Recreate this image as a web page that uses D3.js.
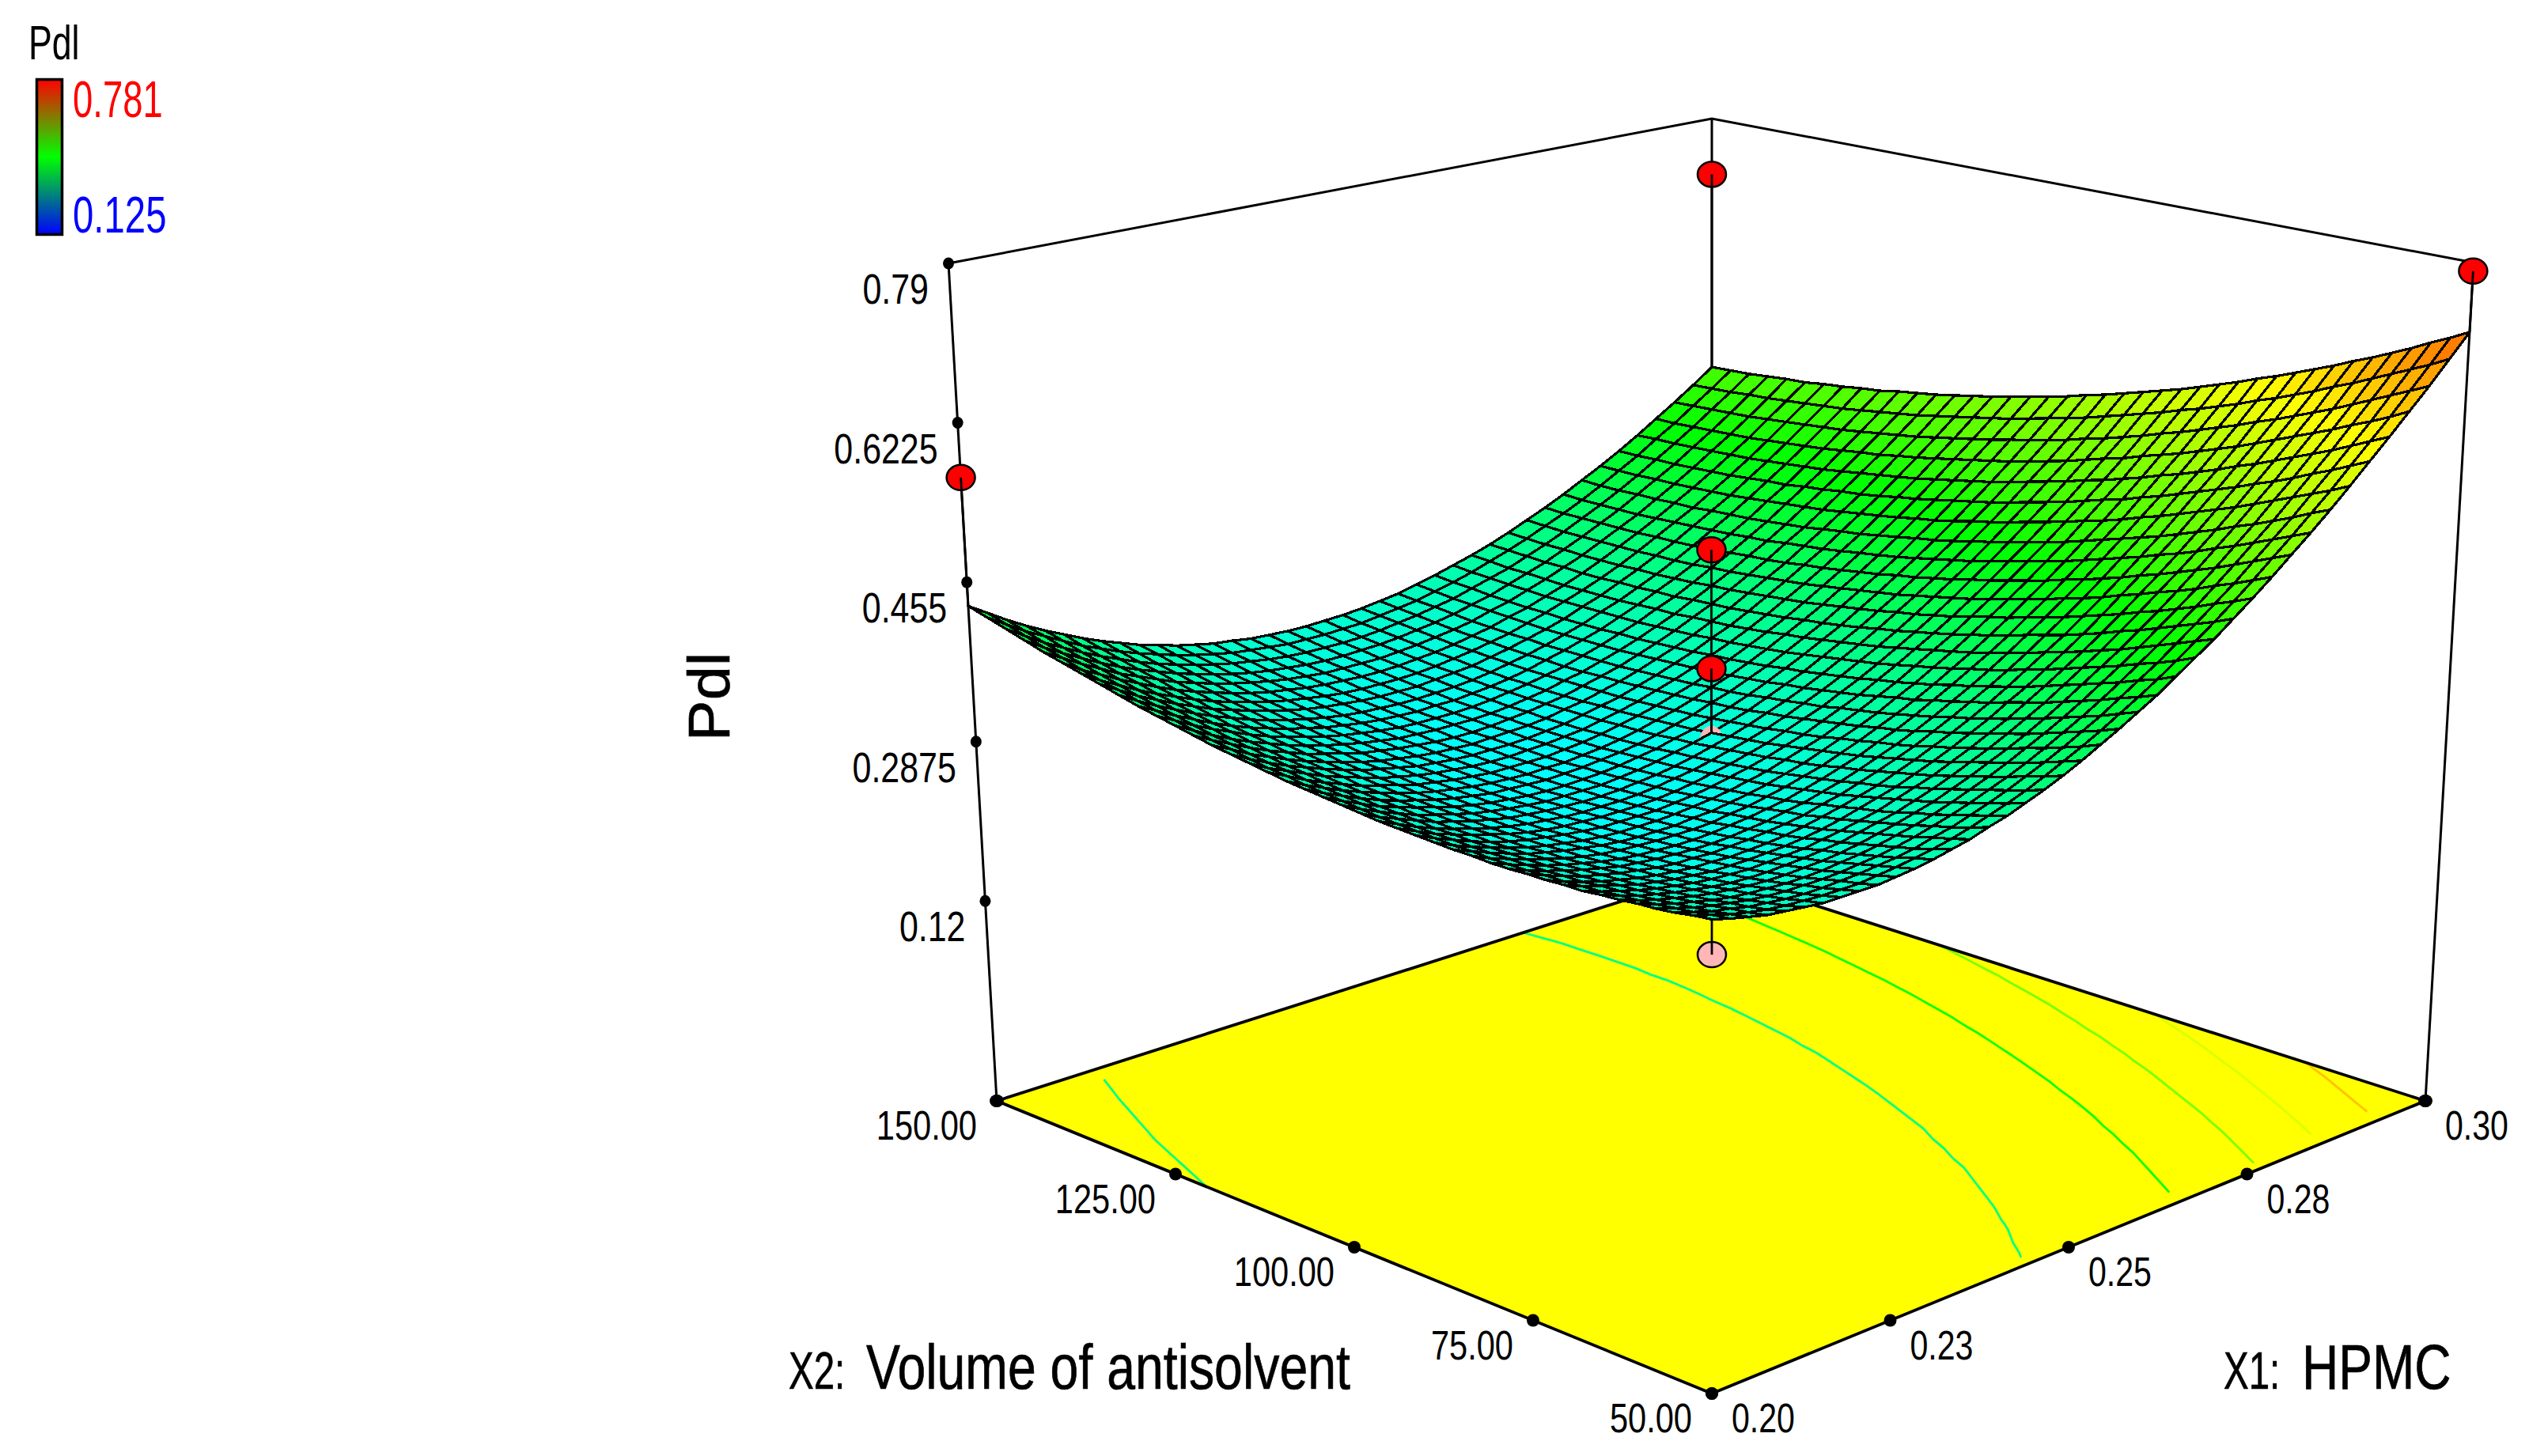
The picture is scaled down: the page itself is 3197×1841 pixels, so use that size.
<!DOCTYPE html>
<html>
<head>
<meta charset="utf-8">
<script src="https://cdn.jsdelivr.net/npm/d3@7"></script>
<style>
  html, body { margin: 0; background: #fff; }
  text { font-family: "Liberation Sans", Arial, sans-serif; }
</style>
</head>
<body>
<div id="chart"></div>
<script>
var x1Ticks = [0.20, 0.225, 0.25, 0.275, 0.30];
var x1TickLabels = ["0.20", "0.23", "0.25", "0.28", "0.30"];
var x2Ticks = [50, 75, 100, 125, 150];
var x2TickLabels = ["50.00", "75.00", "100.00", "125.00", "150.00"];
var zTicks = [0.12, 0.2875, 0.455, 0.6225, 0.79];
var zTickLabels = ["0.12", "0.2875", "0.455", "0.6225", "0.79"];
var legendValues = [0.781, 0.125];

// design points: red ones sit above the surface, pink ones below
var redX1 = [0.30, 0.30, 0.20, 0.25, 0.25];
var redX2 = [50, 150, 150, 100, 100];
var redZ = [0.781, 0.725, 0.565, 0.502, 0.378];
var pinkX1 = [0.20, 0.25];
var pinkX2 = [50, 100];
var pinkZ = [0.32, 0.305];

var contourLevels = [0.37, 0.46, 0.53, 0.592, 0.656];

// Pdl: one row per X2 step (50 -> 150), one column per X1 step (0.20 -> 0.30)
var surfaceZ = [
[.353,.348,.344,.340,.338,.336,.334,.334,.334,.334,.336,.338,.341,.345,.349,.355,.360,.367,.374,.382,.391,.401,.411,.422,.433,.446,.459,.472,.487,.502,.518,.535,.552,.570,.589,.609,.629,.650,.671,.694,.717],
[.351,.346,.341,.337,.334,.332,.331,.330,.330,.330,.332,.334,.337,.340,.344,.349,.355,.361,.368,.376,.385,.394,.404,.415,.426,.438,.451,.465,.479,.494,.510,.527,.544,.562,.580,.600,.620,.640,.662,.684,.707],
[.348,.343,.338,.335,.331,.329,.327,.326,.326,.327,.328,.330,.332,.335,.340,.344,.350,.356,.363,.371,.379,.388,.398,.408,.420,.432,.444,.458,.472,.487,.502,.519,.536,.553,.572,.591,.611,.631,.653,.675,.698],
[.346,.341,.336,.332,.329,.326,.324,.323,.323,.323,.324,.326,.328,.331,.335,.340,.345,.351,.358,.365,.373,.382,.392,.402,.413,.425,.438,.451,.465,.479,.495,.511,.528,.545,.564,.583,.602,.623,.644,.666,.688],
[.345,.339,.334,.330,.326,.323,.321,.320,.319,.319,.320,.322,.324,.327,.331,.335,.340,.346,.353,.360,.368,.377,.386,.396,.407,.419,.431,.444,.458,.472,.487,.503,.520,.537,.556,.574,.594,.614,.635,.657,.679],
[.343,.337,.332,.328,.324,.321,.319,.317,.316,.316,.317,.318,.320,.323,.327,.331,.336,.341,.348,.355,.363,.371,.380,.390,.401,.413,.425,.437,.451,.465,.480,.496,.513,.530,.548,.566,.586,.606,.626,.648,.670],
[.342,.336,.330,.326,.322,.319,.316,.314,.313,.313,.314,.315,.317,.319,.323,.327,.331,.337,.343,.350,.358,.366,.375,.385,.395,.407,.419,.431,.445,.459,.474,.489,.505,.522,.540,.559,.578,.598,.618,.640,.662],
[.340,.334,.329,.324,.320,.317,.314,.312,.311,.310,.311,.312,.313,.316,.319,.323,.327,.333,.339,.345,.353,.361,.370,.379,.390,.401,.413,.425,.438,.452,.467,.482,.498,.515,.533,.551,.570,.590,.610,.631,.653],
[.340,.333,.328,.323,.318,.315,.312,.310,.308,.308,.308,.309,.310,.312,.315,.319,.324,.329,.334,.341,.348,.356,.365,.374,.385,.395,.407,.419,.432,.446,.461,.476,.492,.508,.526,.544,.563,.582,.602,.623,.645],
[.339,.332,.326,.321,.317,.313,.310,.308,.306,.306,.305,.306,.307,.309,.312,.316,.320,.325,.330,.337,.344,.352,.360,.369,.379,.390,.402,.414,.426,.440,.454,.469,.485,.501,.519,.537,.555,.574,.595,.615,.637],
[.339,.332,.326,.320,.316,.312,.309,.306,.304,.304,.303,.304,.305,.307,.309,.312,.317,.321,.327,.333,.340,.347,.356,.365,.375,.385,.396,.408,.421,.434,.448,.463,.479,.495,.512,.530,.548,.567,.587,.608,.629],
[.338,.331,.325,.320,.315,.311,.307,.305,.303,.302,.301,.301,.302,.304,.306,.310,.313,.318,.323,.329,.336,.343,.351,.360,.370,.380,.391,.403,.416,.429,.443,.457,.473,.489,.506,.523,.541,.560,.580,.600,.622],
[.338,.331,.325,.319,.314,.310,.306,.303,.301,.300,.299,.299,.300,.302,.304,.307,.310,.315,.320,.326,.332,.340,.347,.356,.366,.376,.387,.398,.410,.424,.437,.452,.467,.483,.499,.517,.535,.553,.573,.593,.614],
[.339,.331,.325,.319,.314,.309,.305,.302,.300,.299,.298,.298,.298,.299,.302,.304,.308,.312,.317,.322,.329,.336,.344,.352,.361,.371,.382,.393,.405,.418,.432,.446,.461,.477,.493,.510,.528,.547,.566,.586,.607],
[.339,.332,.325,.319,.313,.309,.305,.302,.299,.297,.296,.296,.296,.298,.299,.302,.305,.309,.314,.319,.326,.333,.340,.348,.358,.367,.378,.389,.401,.414,.427,.441,.456,.471,.488,.505,.522,.541,.560,.580,.600],
[.340,.332,.325,.319,.313,.308,.304,.301,.298,.296,.295,.295,.295,.296,.298,.300,.303,.307,.311,.317,.323,.329,.337,.345,.354,.363,.374,.385,.396,.409,.422,.436,.451,.466,.482,.499,.516,.534,.553,.573,.593],
[.341,.333,.326,.319,.313,.308,.304,.301,.298,.296,.294,.294,.294,.294,.296,.298,.301,.305,.309,.314,.320,.326,.334,.342,.350,.360,.370,.381,.392,.404,.417,.431,.446,.461,.477,.493,.511,.529,.547,.567,.587],
[.342,.334,.326,.320,.314,.309,.304,.300,.297,.295,.294,.293,.293,.293,.294,.296,.299,.303,.307,.312,.317,.324,.331,.338,.347,.356,.366,.377,.388,.400,.413,.427,.441,.456,.472,.488,.505,.523,.541,.561,.581],
[.343,.335,.327,.320,.314,.309,.304,.300,.297,.295,.293,.292,.292,.292,.293,.295,.298,.301,.305,.310,.315,.321,.328,.336,.344,.353,.363,.373,.384,.396,.409,.422,.436,.451,.467,.483,.500,.517,.536,.555,.575],
[.345,.336,.329,.322,.315,.310,.305,.301,.297,.295,.293,.292,.291,.291,.292,.294,.296,.299,.303,.308,.313,.319,.326,.333,.341,.350,.360,.370,.381,.393,.405,.418,.432,.447,.462,.478,.495,.512,.530,.549,.569],
[.347,.338,.330,.323,.316,.311,.306,.301,.298,.295,.293,.291,.291,.291,.291,.293,.295,.298,.302,.306,.311,.317,.323,.331,.339,.347,.357,.367,.377,.389,.401,.414,.428,.442,.458,.473,.490,.507,.525,.544,.564],
[.349,.340,.332,.324,.318,.312,.307,.302,.298,.295,.293,.291,.290,.290,.291,.292,.294,.297,.300,.305,.309,.315,.321,.328,.336,.345,.354,.364,.374,.386,.398,.411,.424,.438,.453,.469,.485,.502,.520,.539,.558],
[.351,.342,.334,.326,.319,.313,.308,.303,.299,.296,.293,.292,.291,.290,.291,.292,.294,.296,.299,.303,.308,.313,.320,.326,.334,.342,.351,.361,.371,.383,.395,.407,.420,.435,.449,.465,.481,.498,.516,.534,.553],
[.353,.344,.336,.328,.321,.315,.309,.304,.300,.297,.294,.292,.291,.290,.291,.291,.293,.295,.298,.302,.307,.312,.318,.325,.332,.340,.349,.359,.369,.380,.392,.404,.417,.431,.446,.461,.477,.494,.511,.529,.548],
[.356,.347,.338,.330,.323,.316,.311,.306,.301,.298,.295,.293,.291,.291,.291,.291,.293,.295,.298,.302,.306,.311,.317,.323,.330,.338,.347,.356,.366,.377,.389,.401,.414,.428,.442,.457,.473,.490,.507,.525,.544],
[.359,.349,.341,.333,.325,.319,.313,.307,.303,.299,.296,.294,.292,.291,.291,.292,.293,.295,.297,.301,.305,.310,.316,.322,.329,.337,.345,.354,.364,.375,.386,.398,.411,.424,.439,.454,.469,.486,.503,.521,.539],
[.362,.352,.343,.335,.328,.321,.315,.309,.305,.301,.297,.295,.293,.292,.292,.292,.293,.295,.297,.301,.305,.309,.315,.321,.328,.335,.344,.352,.362,.373,.384,.396,.408,.422,.436,.450,.466,.482,.499,.517,.535],
[.365,.356,.346,.338,.330,.323,.317,.311,.306,.302,.299,.296,.294,.293,.292,.293,.294,.295,.297,.301,.304,.309,.314,.320,.327,.334,.342,.351,.360,.371,.382,.393,.406,.419,.433,.447,.463,.479,.495,.513,.531],
[.369,.359,.350,.341,.333,.326,.319,.314,.309,.304,.301,.298,.296,.294,.293,.293,.294,.296,.298,.301,.304,.309,.314,.319,.326,.333,.341,.350,.359,.369,.380,.391,.404,.416,.430,.445,.460,.475,.492,.509,.527],
[.373,.363,.353,.344,.336,.329,.322,.316,.311,.307,.303,.300,.297,.296,.295,.295,.295,.296,.298,.301,.304,.309,.313,.319,.325,.332,.340,.348,.358,.368,.378,.390,.401,.414,.428,.442,.457,.473,.489,.506,.524],
[.377,.367,.357,.348,.340,.332,.325,.319,.314,.309,.305,.302,.299,.297,.296,.296,.296,.297,.299,.302,.305,.309,.313,.319,.325,.332,.339,.348,.356,.366,.377,.388,.400,.412,.426,.440,.454,.470,.486,.503,.521],
[.381,.371,.361,.352,.343,.335,.328,.322,.316,.312,.307,.304,.301,.299,.298,.297,.298,.298,.300,.302,.305,.309,.314,.319,.325,.331,.339,.347,.356,.365,.375,.386,.398,.410,.424,.437,.452,.467,.483,.500,.517],
[.386,.375,.365,.356,.347,.339,.332,.325,.319,.314,.310,.306,.303,.301,.300,.299,.299,.300,.301,.303,.306,.310,.314,.319,.325,.331,.339,.346,.355,.364,.374,.385,.397,.409,.422,.436,.450,.465,.481,.497,.515],
[.391,.380,.369,.360,.351,.343,.335,.329,.323,.318,.313,.309,.306,.304,.302,.301,.301,.301,.303,.305,.307,.311,.315,.320,.325,.331,.339,.346,.355,.364,.374,.384,.396,.408,.420,.434,.448,.463,.479,.495,.512],
[.396,.384,.374,.364,.355,.347,.339,.332,.326,.321,.316,.312,.309,.306,.304,.303,.303,.303,.304,.306,.309,.312,.316,.320,.326,.332,.339,.346,.354,.363,.373,.384,.395,.406,.419,.432,.446,.461,.477,.493,.510],
[.401,.389,.379,.369,.360,.351,.343,.336,.330,.324,.319,.315,.312,.309,.307,.306,.305,.305,.306,.308,.310,.313,.317,.321,.327,.332,.339,.346,.354,.363,.373,.383,.394,.406,.418,.431,.445,.459,.475,.491,.507],
[.406,.395,.384,.374,.364,.356,.348,.340,.334,.328,.323,.319,.315,.312,.310,.308,.308,.308,.308,.310,.312,.315,.318,.322,.328,.333,.340,.347,.355,.363,.373,.383,.393,.405,.417,.430,.444,.458,.473,.489,.506],
[.412,.400,.389,.379,.369,.360,.352,.345,.338,.332,.327,.322,.318,.315,.313,.311,.310,.310,.311,.312,.314,.317,.320,.324,.329,.334,.341,.348,.355,.364,.373,.383,.393,.405,.417,.429,.443,.457,.472,.488,.504],
[.418,.406,.394,.384,.374,.365,.357,.349,.342,.336,.331,.326,.322,.319,.316,.314,.313,.313,.313,.314,.316,.319,.322,.326,.330,.336,.342,.348,.356,.364,.373,.383,.393,.404,.416,.429,.442,.456,.471,.486,.502],
[.424,.412,.400,.390,.380,.370,.362,.354,.347,.341,.335,.330,.326,.322,.320,.318,.316,.316,.316,.317,.318,.321,.324,.327,.332,.337,.343,.350,.357,.365,.374,.383,.393,.404,.416,.428,.442,.455,.470,.485,.501],
[.430,.418,.406,.395,.385,.376,.367,.359,.352,.345,.340,.334,.330,.326,.324,.321,.320,.319,.319,.320,.321,.323,.326,.329,.334,.339,.345,.351,.358,.366,.375,.384,.394,.405,.416,.428,.441,.455,.469,.484,.500]
];

var width = 3197, height = 1841;

// corners of the box on the page, front = (0.20, 50), right = (0.30, 50), left = (0.20, 150), back = (0.30, 150)
var floorBox = { front: [2164, 1762], right: [3066, 1392], left: [1260, 1392], back: [2164, 1103] };
var topBox = { front: [2164, 571], right: [3127, 332], left: [1199, 333], back: [2164, 150] };

var nCols = surfaceZ[0].length, nRows = surfaceZ.length;

var x1Scale = d3.scaleLinear().domain([0.20, 0.30]).range([0, 1]);
var x2Scale = d3.scaleLinear().domain([50, 150]).range([0, 1]);
var zScale = d3.scaleLinear().domain([-0.09, 0.79]).range([0, 1]);
var colGrid = d3.scaleLinear().domain([0, nCols - 1]).range([0.20, 0.30]);
var rowGrid = d3.scaleLinear().domain([0, nRows - 1]).range([50, 150]);

var colorScale = d3.scaleLinear()
    .domain([0.125, 0.289, 0.453, 0.617, 0.781])
    .range(["#0000ff", "#00ffff", "#00ff00", "#ffff00", "#ff0000"])
    .clamp(true);

function corner(box, s, t, k) {
  return (1 - s) * (1 - t) * box.front[k] + s * (1 - t) * box.right[k]
       + (1 - s) * t * box.left[k] + s * t * box.back[k];
}

function project(x1, x2, z) {
  var s = x1Scale(x1), t = x2Scale(x2), w = zScale(z);
  return [0, 1].map(function(k) {
    var a = corner(floorBox, s, t, k), b = corner(topBox, s, t, k);
    return a + (b - a) * w;
  });
}

function onFloor(x1, x2) { return project(x1, x2, zScale.domain()[0]); }

var svg = d3.select("#chart").append("svg")
    .attr("width", width)
    .attr("height", height)
    .style("display", "block");

var lineGen = d3.line();

function addText(g, x, y, str, size, sx, anchor, fill) {
  return g.append("text")
      .attr("transform", "translate(" + x + "," + y + ") scale(" + sx + ",1)")
      .attr("text-anchor", anchor || "start")
      .attr("font-size", size)
      .attr("fill", fill || "#000")
      .text(str);
}

function dot(g, p, rx, ry) {
  g.append("ellipse").attr("cx", p[0]).attr("cy", p[1]).attr("rx", rx).attr("ry", ry).attr("fill", "#000");
}

// back edges of the box
var back = svg.append("g").attr("fill", "none").attr("stroke", "#000").attr("stroke-width", 3);
back.append("path").attr("d", lineGen([topBox.left, topBox.back, topBox.right]));
back.append("path").attr("d", lineGen([topBox.left, floorBox.left]));
back.append("path").attr("d", lineGen([topBox.right, floorBox.right]));
back.append("path").attr("d", lineGen([topBox.back, project(0.30, 150, surfaceZ[nRows - 1][nCols - 1])]));

// floor with its contours
var floor = svg.append("g");
floor.append("path")
    .attr("d", lineGen([floorBox.left, floorBox.front, floorBox.right, floorBox.back]) + "Z")
    .attr("fill", "#ffff00");

var contours = d3.contours().size([nCols, nRows]).smooth(true).thresholds(contourLevels)(d3.merge(surfaceZ));

function contourPath(c) {
  var path = d3.path();
  function toGrid(q) {
    return [Math.max(0, Math.min(nCols - 1, q[0] - 0.5)), Math.max(0, Math.min(nRows - 1, q[1] - 0.5))];
  }
  function onEdge(g) {
    return g[0] === 0 || g[0] === nCols - 1 || g[1] === 0 || g[1] === nRows - 1;
  }
  c.coordinates.forEach(function(poly) {
    poly.forEach(function(ring) {
      var pen = false;
      ring.forEach(function(q) {
        var g = toGrid(q);
        if (onEdge(g) && pen === "edge") return;
        var p = onFloor(colGrid(g[0]), rowGrid(g[1]));
        if (!pen) path.moveTo(p[0], p[1]);
        else if (pen === "edge") path.moveTo(p[0], p[1]);
        else path.lineTo(p[0], p[1]);
        pen = onEdge(g) ? "edge" : "in";
      });
    });
  });
  return path.toString();
}

floor.selectAll(".contour")
    .data(contours)
  .enter().append("path")
    .attr("class", "contour")
    .attr("d", contourPath)
    .attr("fill", "none")
    .attr("stroke", function(d) { return colorScale(d.value); })
    .attr("stroke-width", 2.8);

floor.append("path")
    .attr("d", lineGen([floorBox.left, floorBox.front, floorBox.right, floorBox.back]) + "Z")
    .attr("fill", "none")
    .attr("stroke", "#000")
    .attr("stroke-width", 3.8)
    .attr("stroke-linejoin", "round");

// ticks
var ticks = svg.append("g");
zTicks.forEach(function(v, i) {
  var p = project(0.20, 150, v);
  dot(ticks, p, 7, 7.5);
  addText(ticks, p[0] - 25, p[1] + 51, zTickLabels[i], 53, 0.81, "end");
});
dot(ticks, floorBox.left, 9, 8);
dot(ticks, floorBox.right, 9, 8);
x2Ticks.forEach(function(v, i) {
  var p = onFloor(0.20, v);
  dot(ticks, p, 8, 8);
  addText(ticks, p[0] - 25, p[1] + 49, x2TickLabels[i], 52, 0.8, "end");
});
x1Ticks.forEach(function(v, i) {
  var p = onFloor(v, 50);
  dot(ticks, p, 8, 8);
  addText(ticks, p[0] + 25, p[1] + 49, x1TickLabels[i], 52, 0.79, "start");
});

function designPoint(g, x1, x2, z, fill) {
  var p = project(x1, x2, z);
  g.append("ellipse")
      .attr("cx", p[0]).attr("cy", p[1]).attr("rx", 18).attr("ry", 16)
      .attr("fill", fill).attr("stroke", "#000").attr("stroke-width", 2.5);
  var c = Math.round(colGrid.invert(x1)), r = Math.round(rowGrid.invert(x2));
  g.append("path")
      .attr("d", lineGen([p, project(x1, x2, surfaceZ[r][c])]))
      .attr("stroke", "#000").attr("stroke-width", 2.8).attr("fill", "none");
}

// pink point under the front corner
designPoint(svg.append("g"), pinkX1[0], pinkX2[0], pinkZ[0], "#ffb6b6");

// surface cells, painted from the back corner to the front corner
var cells = [];
d3.range(nRows - 1).forEach(function(r) {
  d3.range(nCols - 1).forEach(function(c) {
    cells.push({
      c: c, r: r,
      z: (surfaceZ[r][c] + surfaceZ[r][c + 1] + surfaceZ[r + 1][c] + surfaceZ[r + 1][c + 1]) / 4,
      pts: [[c, r], [c + 1, r], [c + 1, r + 1], [c, r + 1]].map(function(q) {
        return project(colGrid(q[0]), rowGrid(q[1]), surfaceZ[q[1]][q[0]]);
      })
    });
  });
});
cells.sort(function(a, b) { return (b.c + b.r) - (a.c + a.r); });

function drawCells(data) {
  svg.append("g")
      .attr("stroke", "#000")
      .attr("stroke-width", 3.2)
      .attr("stroke-linejoin", "round")
      .attr("shape-rendering", "crispEdges")
    .selectAll("path")
      .data(data)
    .enter().append("path")
      .attr("d", function(d) { return lineGen(d.pts) + "Z"; })
      .attr("fill", function(d) { return colorScale(d.z); });
}

drawCells(cells.filter(function(d) { return d.c + d.r >= (nCols - 2); }));
// centre pink point only just pokes out of the mesh
var cp = project(pinkX1[1], pinkX2[1], pinkZ[1]);
svg.append("ellipse").attr("cx", cp[0]).attr("cy", cp[1]).attr("rx", 14).attr("ry", 16).attr("fill", "#ffb6b6");
drawCells(cells.filter(function(d) { return d.c + d.r < (nCols - 2); }));

// red points above the surface
var reds = svg.append("g");
redZ.forEach(function(v, i) { designPoint(reds, redX1[i], redX2[i], v, "#ff0000"); });

// axis titles
var titles = svg.append("g").attr("stroke", "#000").attr("stroke-width", 0.7);
titles.append("text")
    .attr("transform", "translate(922,881) rotate(-90) scale(1.05,1)")
    .attr("text-anchor", "middle")
    .attr("font-size", 74)
    .text("Pdl");
addText(titles, 997, 1756, "X2:", 66, 0.72);
addText(titles, 1095, 1756, "Volume of antisolvent", 79, 0.815);
addText(titles, 2811, 1756, "X1:", 66, 0.72);
addText(titles, 2910, 1756, "HPMC", 79, 0.81);

// legend
var defs = svg.append("defs");
var grad = defs.append("linearGradient").attr("id", "legendGrad")
    .attr("x1", 0).attr("y1", 0).attr("x2", 0).attr("y2", 1);
grad.append("stop").attr("offset", "0%").attr("stop-color", "#ff0000");
grad.append("stop").attr("offset", "50%").attr("stop-color", "#00ff00");
grad.append("stop").attr("offset", "100%").attr("stop-color", "#0000ff");

var legend = svg.append("g");
legend.append("rect")
    .attr("x", 46.5).attr("y", 100.5).attr("width", 32).attr("height", 196)
    .attr("fill", "url(#legendGrad)")
    .attr("stroke", "#000").attr("stroke-width", 3.5);
addText(legend, 36, 75, "Pdl", 62, 0.72);
addText(legend, 92, 148, d3.format(".3f")(legendValues[0]), 64, 0.71, "start", "#ff0000");
addText(legend, 92, 294, d3.format(".3f")(legendValues[1]), 64, 0.74, "start", "#0000ff");
</script>
</body>
</html>
